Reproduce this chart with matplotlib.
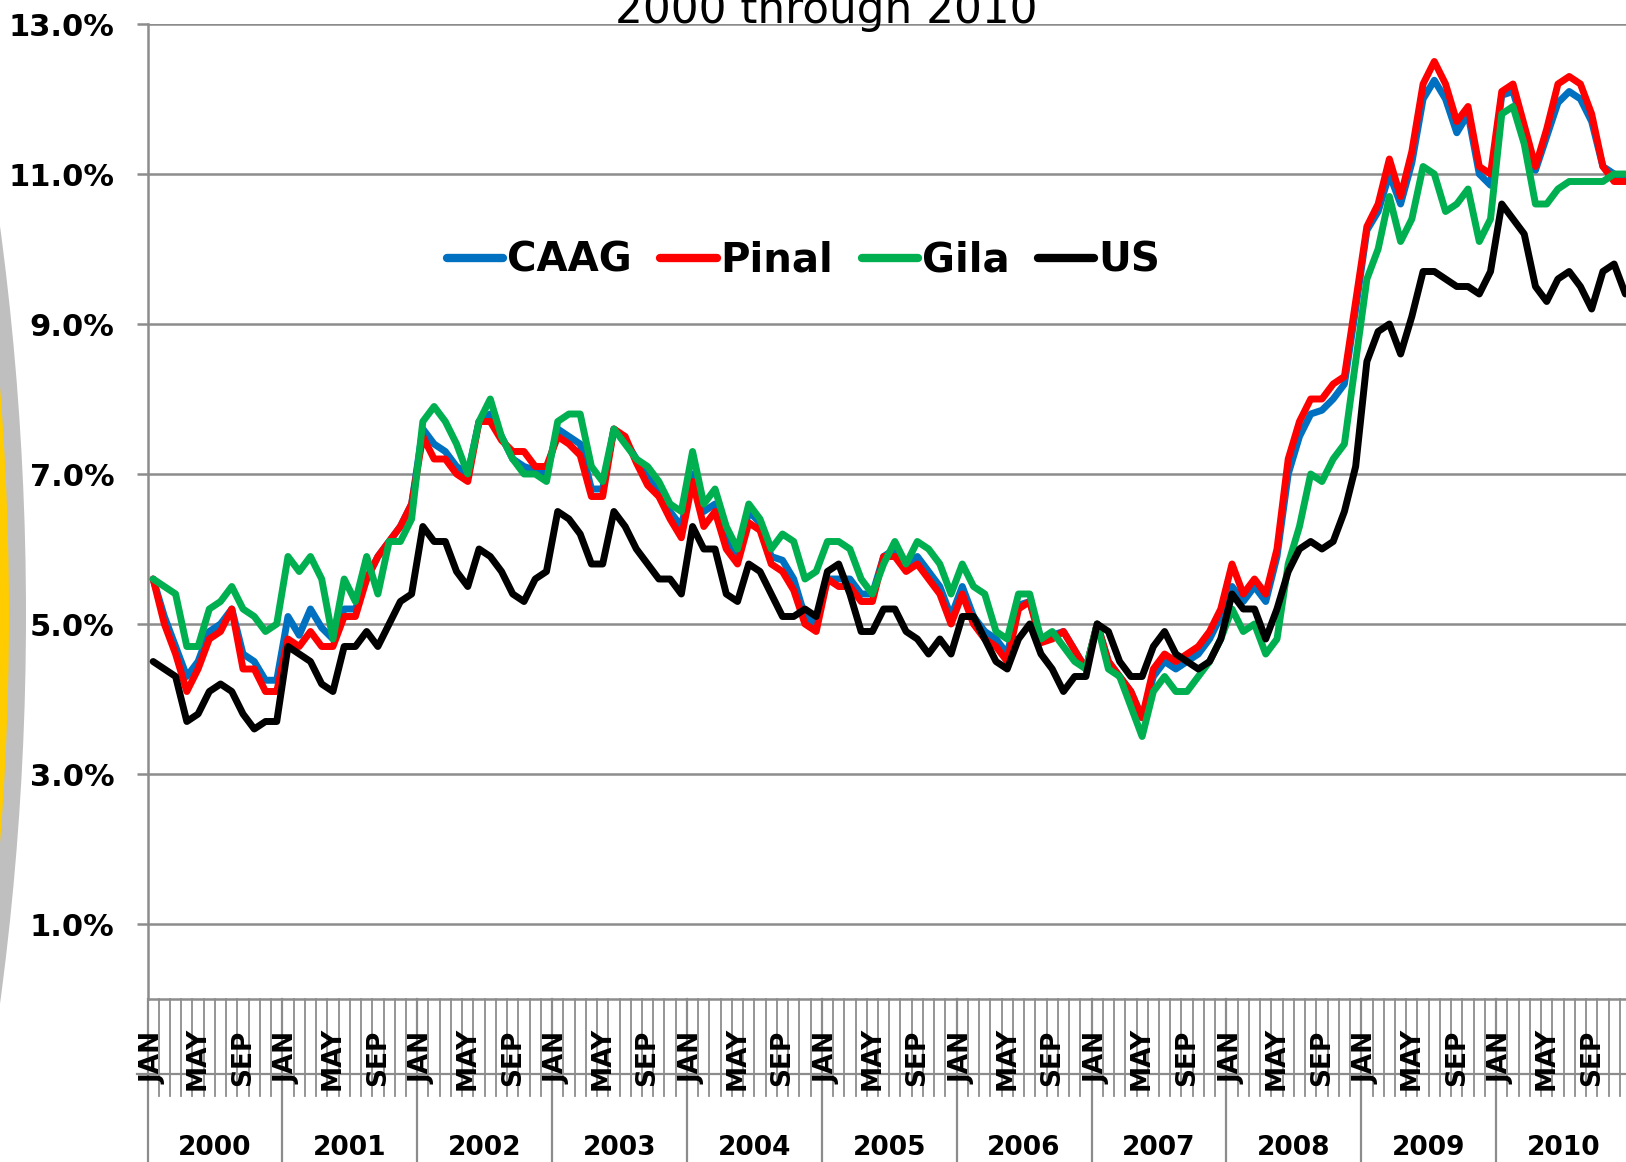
import numpy as np
import matplotlib
matplotlib.use("Agg")
import matplotlib.pyplot as plt
from matplotlib.patches import Circle

# ---------------- data ----------------
years = ["2000", "2001", "2002", "2003", "2004", "2005", "2006", "2007", "2008", "2009", "2010"]
month_labels = {0: "JAN", 4: "MAY", 8: "SEP"}
yticks = [1, 3, 5, 7, 9, 11, 13]

caag = [5.6, 5.1, 4.7, 4.3, 4.5, 4.9, 5.0, 5.2, 4.6, 4.5, 4.25, 4.25,
        5.1, 4.85, 5.2, 4.95, 4.8, 5.2, 5.2, 5.6, 5.9, 6.1, 6.3, 6.6,
        7.6, 7.4, 7.3, 7.1, 7.0, 7.7, 7.8, 7.5, 7.2, 7.1, 7.05, 7.0,
        7.6, 7.5, 7.4, 6.8, 6.8, 7.6, 7.45, 7.2, 6.95, 6.8, 6.5, 6.3,
        7.0, 6.5, 6.6, 6.15, 5.9, 6.5, 6.35, 5.9, 5.85, 5.6, 5.1, 5.0,
        5.6, 5.6, 5.6, 5.4, 5.4, 5.9, 6.0, 5.8, 5.9, 5.7, 5.5, 5.1,
        5.5, 5.1, 4.9, 4.8, 4.6, 5.25, 5.3, 4.8, 4.85, 4.9, 4.65, 4.4,
        5.0, 4.5, 4.3, 4.1, 3.75, 4.3, 4.5, 4.4, 4.5, 4.6, 4.8, 5.1,
        5.5, 5.3, 5.5, 5.3, 5.9, 7.0, 7.5, 7.8, 7.85, 8.0, 8.2, 9.2,
        10.25, 10.5, 11.0, 10.6, 11.15, 12.0, 12.25, 12.0, 11.55, 11.8, 11.0, 10.85,
        12.05, 12.1, 11.6, 11.05, 11.5, 11.95, 12.1, 12.0, 11.7, 11.1, 11.0, 10.95]

pinal = [5.6, 5.0, 4.6, 4.1, 4.4, 4.8, 4.9, 5.2, 4.4, 4.4, 4.1, 4.1,
         4.8, 4.7, 4.9, 4.7, 4.7, 5.1, 5.1, 5.6, 5.9, 6.1, 6.3, 6.6,
         7.5, 7.2, 7.2, 7.0, 6.9, 7.7, 7.7, 7.45, 7.3, 7.3, 7.1, 7.1,
         7.5, 7.4, 7.25, 6.7, 6.7, 7.6, 7.5, 7.15, 6.85, 6.7, 6.4, 6.15,
         6.9, 6.3, 6.5, 6.0, 5.8, 6.35, 6.25, 5.8, 5.7, 5.45, 5.0, 4.9,
         5.6, 5.5, 5.5, 5.3, 5.3, 5.9, 5.9, 5.7, 5.8, 5.6, 5.4, 5.0,
         5.4, 5.0, 4.8, 4.7, 4.5, 5.2, 5.3, 4.75, 4.8, 4.9, 4.65, 4.4,
         5.0, 4.5, 4.3, 4.1, 3.75, 4.4, 4.6, 4.5, 4.6, 4.7, 4.9, 5.2,
         5.8, 5.4, 5.6, 5.4, 6.0, 7.2, 7.7, 8.0, 8.0, 8.2, 8.3, 9.3,
         10.3, 10.6, 11.2, 10.7, 11.3, 12.2, 12.5, 12.2, 11.7, 11.9, 11.1, 11.0,
         12.1, 12.2, 11.65, 11.1, 11.6, 12.2, 12.3, 12.2, 11.8, 11.1, 10.9, 10.9]

gila = [5.6, 5.5, 5.4, 4.7, 4.7, 5.2, 5.3, 5.5, 5.2, 5.1, 4.9, 5.0,
        5.9, 5.7, 5.9, 5.6, 4.8, 5.6, 5.3, 5.9, 5.4, 6.1, 6.1, 6.4,
        7.7, 7.9, 7.7, 7.4, 7.0, 7.7, 8.0, 7.5, 7.2, 7.0, 7.0, 6.9,
        7.7, 7.8, 7.8, 7.1, 6.9, 7.6, 7.4, 7.2, 7.1, 6.9, 6.6, 6.5,
        7.3, 6.6, 6.8, 6.3, 6.0, 6.6, 6.4, 6.0, 6.2, 6.1, 5.6, 5.7,
        6.1, 6.1, 6.0, 5.6, 5.4, 5.8, 6.1, 5.8, 6.1, 6.0, 5.8, 5.4,
        5.8, 5.5, 5.4, 4.9, 4.8, 5.4, 5.4, 4.8, 4.9, 4.7, 4.5, 4.4,
        5.0, 4.4, 4.3, 3.9, 3.5, 4.1, 4.3, 4.1, 4.1, 4.3, 4.5, 4.8,
        5.2, 4.9, 5.0, 4.6, 4.8, 5.8, 6.3, 7.0, 6.9, 7.2, 7.4, 8.5,
        9.6, 10.0, 10.7, 10.1, 10.4, 11.1, 11.0, 10.5, 10.6, 10.8, 10.1, 10.4,
        11.8, 11.9, 11.4, 10.6, 10.6, 10.8, 10.9, 10.9, 10.9, 10.9, 11.0, 11.0]

us = [4.5, 4.4, 4.3, 3.7, 3.8, 4.1, 4.2, 4.1, 3.8, 3.6, 3.7, 3.7,
      4.7, 4.6, 4.5, 4.2, 4.1, 4.7, 4.7, 4.9, 4.7, 5.0, 5.3, 5.4,
      6.3, 6.1, 6.1, 5.7, 5.5, 6.0, 5.9, 5.7, 5.4, 5.3, 5.6, 5.7,
      6.5, 6.4, 6.2, 5.8, 5.8, 6.5, 6.3, 6.0, 5.8, 5.6, 5.6, 5.4,
      6.3, 6.0, 6.0, 5.4, 5.3, 5.8, 5.7, 5.4, 5.1, 5.1, 5.2, 5.1,
      5.7, 5.8, 5.4, 4.9, 4.9, 5.2, 5.2, 4.9, 4.8, 4.6, 4.8, 4.6,
      5.1, 5.1, 4.8, 4.5, 4.4, 4.8, 5.0, 4.6, 4.4, 4.1, 4.3, 4.3,
      5.0, 4.9, 4.5, 4.3, 4.3, 4.7, 4.9, 4.6, 4.5, 4.4, 4.5, 4.8,
      5.4, 5.2, 5.2, 4.8, 5.2, 5.7, 6.0, 6.1, 6.0, 6.1, 6.5, 7.1,
      8.5, 8.9, 9.0, 8.6, 9.1, 9.7, 9.7, 9.6, 9.5, 9.5, 9.4, 9.7,
      10.6, 10.4, 10.2, 9.5, 9.3, 9.6, 9.7, 9.5, 9.2, 9.7, 9.8, 9.4]

series_names = ["CAAG", "Pinal", "Gila", "US"]
series_colors = ["#0070C0", "#FF0000", "#00B050", "#000000"]

# ---------------- figure ----------------
W, H = 1626, 1162
fig = plt.figure(figsize=(W / 100, H / 100), dpi=100)
fig.patch.set_facecolor("white")

# decorative arc at the left edge
cx, cy = -2897 / 100, (H - 615) / 100
fig.add_artist(Circle((cx, cy), 29.23, transform=fig.dpi_scale_trans,
                      facecolor="#BFBFBF", edgecolor="none", zorder=0))
fig.add_artist(Circle((cx, cy), 29.06, transform=fig.dpi_scale_trans,
                      facecolor="#FFCC00", edgecolor="none", zorder=0))

left_px, right_px, top_px, bot_px = 147.5, 1631, 24, 999
ax = fig.add_axes([left_px / W, 1 - bot_px / H, (right_px - left_px) / W, (bot_px - top_px) / H])
ax.set_facecolor("none")

n = len(us)
x = np.arange(n) + 0.5
for vals, name, col in zip([caag, pinal, gila, us], series_names, series_colors):
    ax.plot(x, vals, color=col, lw=5.0, label=name,
            solid_joinstyle="round", solid_capstyle="round", zorder=3)

ax.set_xlim(0, n)
ax.set_ylim(0, 13)
ax.set_yticks(yticks)
ax.set_yticklabels([f"{v:.1f}%" for v in yticks], fontsize=22, fontweight="bold")
ax.set_xticks([])
grey = "#8C8C8C"
ax.yaxis.grid(True, color=grey, lw=1.8, zorder=1)
ax.set_axisbelow(True)
for s in ["top", "right"]:
    ax.spines[s].set_visible(False)
for s in ["left", "bottom"]:
    ax.spines[s].set_color(grey)
    ax.spines[s].set_linewidth(1.8)
ax.tick_params(axis="y", length=8, width=1.8, color=grey, pad=16)

# multi-level category axis
axh = bot_px - top_px
def yfrac(py):
    return (bot_px - py) / axh

tr = ax.get_xaxis_transform()
for m in range(n + 1):
    ax.plot([m, m], [0, yfrac(1096)], color=grey, lw=1.3, transform=tr, clip_on=False)
for yi in range(len(years) + 1):
    ax.plot([yi * 12, yi * 12], [0, yfrac(1175)], color=grey, lw=1.6, transform=tr, clip_on=False)
ax.plot([-0.9, n], [yfrac(1074), yfrac(1074)], color=grey, lw=1.6, transform=tr, clip_on=False)

for yi, yr in enumerate(years):
    for mo, lab in month_labels.items():
        ax.text(yi * 12 + mo + 0.5, yfrac(1058), lab, transform=tr, rotation=90,
                ha="center", va="center", fontsize=19, fontweight="bold")
    ax.text(yi * 12 + 6, yfrac(1148), yr, transform=tr, ha="center", va="center",
            fontsize=19, fontweight="bold")

# legend
leg = fig.legend(loc="center", bbox_to_anchor=(803.5 / W, 1 - 261 / H), ncol=4,
                 frameon=False, prop={"size": 29, "weight": "bold"},
                 handlelength=1.4, handletextpad=0.1, columnspacing=0.7, borderpad=0)
for h in leg.get_lines():
    h.set_linewidth(6)
    h.set_solid_capstyle("round")

# partially visible title (cut by the top edge, as in the source)
fig.text(826 / W, 1 - 23 / H, "2000 through 2010", ha="center", va="baseline",
         fontsize=31.5, color="black")

fig.savefig("out.png", dpi=100)
